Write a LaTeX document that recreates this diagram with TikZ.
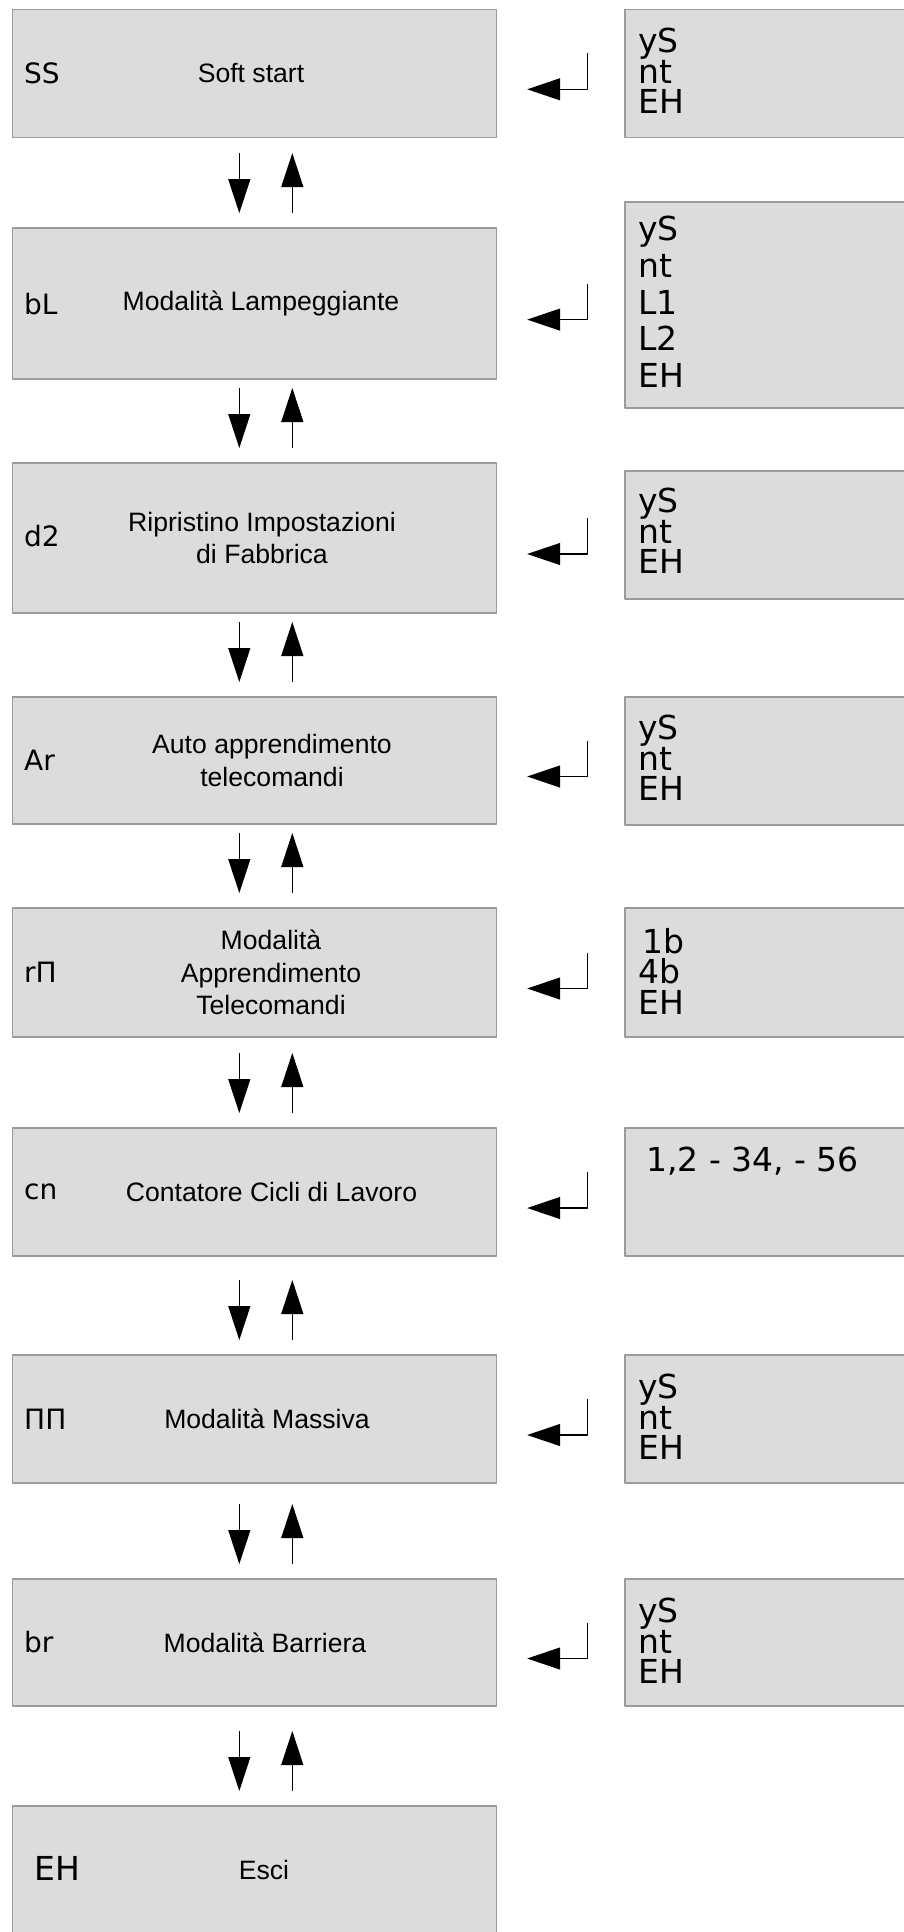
\documentclass[tikz,border=0pt]{standalone}
\usepackage{fontspec}
\setmainfont{Liberation Sans}
\newfontfamily\segfont{DejaVu Sans}
\usetikzlibrary{arrows.meta}
\definecolor{lcd}{RGB}{220,220,220}
\definecolor{lcdframe}{RGB}{155,155,155}
\setlength{\lineskiplimit}{-100pt}
\begin{document}
\begin{tikzpicture}[x=1pt,y=-1pt,line join=round,
  menu/.style={draw=lcdframe,fill=lcd,line width=1.5pt,minimum width=484pt,minimum height=#1,inner sep=0pt,outer sep=0pt},
  opt/.style={draw=lcdframe,fill=lcd,line width=1.5pt,minimum width=320pt,minimum height=#1,inner sep=0pt,outer sep=0pt,anchor=north west},
  code/.style={font=\segfont\fontsize{28}{32}\selectfont,inner sep=0pt,anchor=west},
  desc/.style={font=\fontsize{26.6}{32.5}\selectfont,align=center,inner sep=0pt},
  seg/.style={font=\segfont\fontsize{33}{#1}\selectfont,align=left,inner sep=0pt,anchor=north west},
  nav/.style={line width=1.2pt,-{Triangle[length=34pt,width=22pt]}},
  ret/.style={line width=1.2pt,-{Triangle[length=33pt,width=22pt]}}]
\useasboundingbox (0,0) rectangle (903,1932);
\def\dx{-15.4} \def\ux{37.6}
\node[menu=128pt] (ss) at (254.7,73.3) {};
\node[menu=151pt] (bl) at (254.7,303.6) {};
\node[menu=150pt] (dz) at (254.7,538) {};
\node[menu=127pt] (ar) at (254.7,760.5) {};
\node[menu=129pt] (rm) at (254.7,972.5) {};
\node[menu=128pt] (cn) at (254.7,1192) {};
\node[menu=128pt] (mm) at (254.7,1419) {};
\node[menu=127pt] (br) at (254.7,1642.5) {};
\node[menu=128pt] (eh) at (254.7,1870) {};
\node[code] (ssc) at (24,73.3) {SS};
\node[code] (blc) at (24,303.6) {bL};
\node[code] (dzc) at (24,536) {d2};
\node[code] (arc) at (24,760.5) {Ar};
\node[code] (rmc) at (24,972.5) {rΠ};
\node[code] (cnc) at (24,1192) {cn};
\node[code] (mmc) at (24,1419) {ΠΠ};
\node[code] (brc) at (24,1642.5) {br};
\node[code,font=\segfont\fontsize{33}{36}\selectfont] (ehc) at (34,1868) {EH};
\node[desc] (ssd) at (251,73.3) {Soft start};
\node[desc] (bld) at (261,303.6) {Modalità Lampeggiante};
\node[desc] (dzd) at (262,538) {Ripristino Impostazioni\\di Fabbrica};
\node[desc] (ard) at (272,760.5) {Auto apprendimento\\telecomandi};
\node[desc] (rmd) at (271,972.5) {Modalità\\Apprendimento\\Telecomandi};
\node[desc] (cnd) at (271.5,1192) {Contatore Cicli di Lavoro};
\node[desc] (mmd) at (267,1419) {Modalità Massiva};
\node[desc] (brd) at (265,1642.5) {Modalità Barriera};
\node[desc] (ehd) at (264,1870) {Esci};
\node[opt=128pt] (sso) at (625,9.3) {};
\node[opt=206pt] (blo) at (625,202) {};
\node[opt=128pt] (dzo) at (625,471) {};
\node[opt=128pt] (aro) at (625,697) {};
\node[opt=129pt] (rmo) at (625,908) {};
\node[opt=128pt] (cno) at (625,1128) {};
\node[opt=128pt] (mmo) at (625,1355) {};
\node[opt=127pt] (bro) at (625,1579) {};
\node[seg=30.5pt] (ssv) at (638,28) {yS\\nt\\EH};
\node[seg=36.75pt] (blv) at (638,216) {yS\\nt\\L1\\L2\\EH};
\node[seg=30.5pt] (dzv) at (638,488) {yS\\nt\\EH};
\node[seg=30.5pt] (arv) at (638,715) {yS\\nt\\EH};
\node[seg=30.5pt] (rmv) at (638,928) {\hspace{4pt}1b\\4b\\EH};
\node[seg=30.5pt] (cnv) at (646,1147) {1,2 - 34, - 56};
\node[seg=30.5pt] (mmv) at (638,1374) {yS\\nt\\EH};
\node[seg=30.5pt] (brv) at (638,1598) {yS\\nt\\EH};
\foreach \n in {ss,bl,dz,ar,rm,cn,mm,br}
  \draw[ret] ([shift={(91,-20)}]\n.east) |- ([shift={(30.5,16)}]\n.east);
\foreach \n in {bl,dz,ar,rm,cn,mm,br,eh}{
  \draw[nav] ([shift={(\dx,-75)}]\n.north) -- ([shift={(\dx,-15)}]\n.north);
  \draw[nav] ([shift={(\ux,-15)}]\n.north) -- ([shift={(\ux,-75)}]\n.north);
}
\end{tikzpicture}
\end{document}
